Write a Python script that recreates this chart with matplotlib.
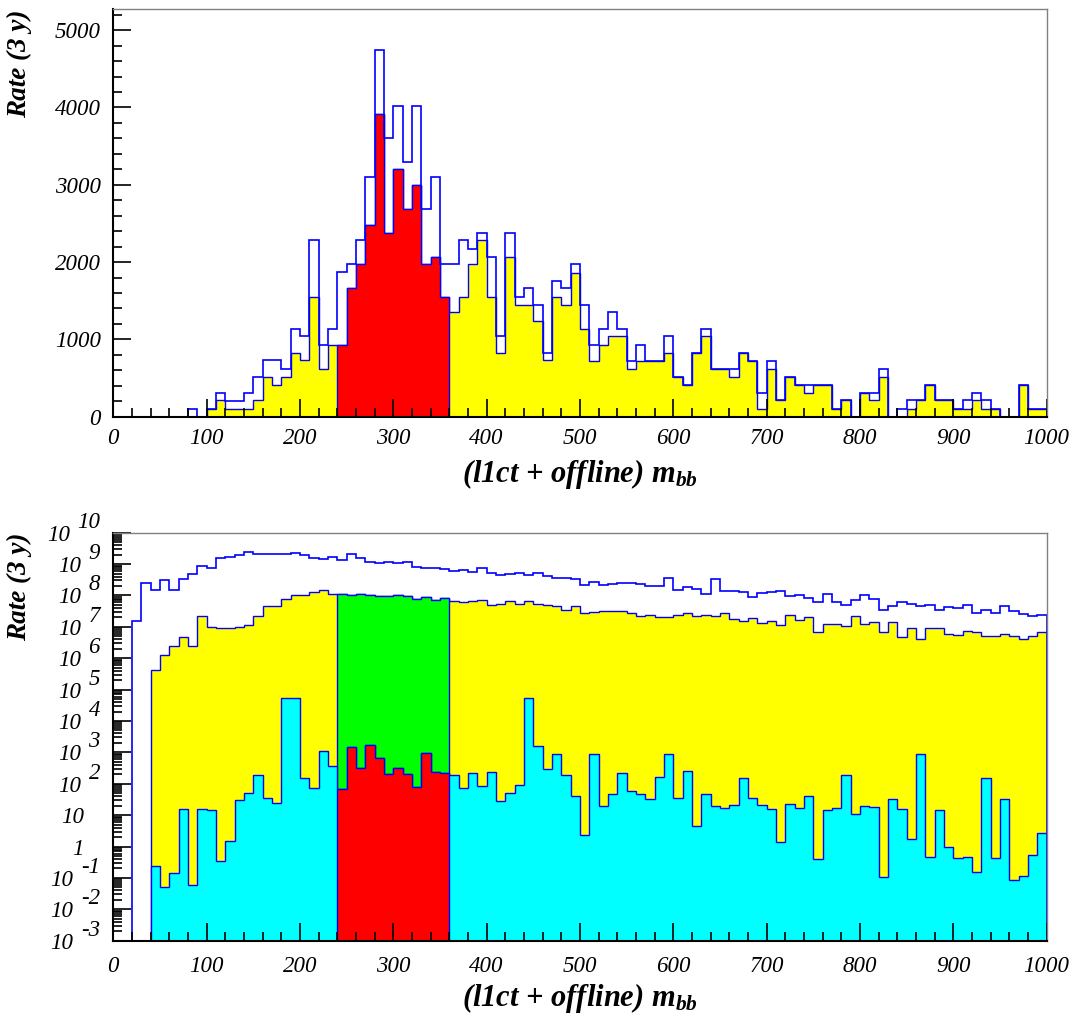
import numpy as np
import matplotlib
matplotlib.use("Agg")
import matplotlib.pyplot as plt
from matplotlib.ticker import MultipleLocator, LogLocator, NullFormatter
from matplotlib.transforms import blended_transform_factory, offset_copy

plt.rcParams['font.family'] = 'Liberation Serif'
plt.rcParams['mathtext.fontset'] = 'custom'
plt.rcParams['mathtext.rm'] = 'Liberation Serif'
plt.rcParams['mathtext.it'] = 'Liberation Serif:italic'
plt.rcParams['mathtext.bf'] = 'Liberation Serif:bold'
plt.rcParams['mathtext.bfit'] = 'Liberation Serif:bold:italic'

# 100 bins of 10 in m_bb, signal window 240-360
edges = np.arange(0, 1001, 10)
win_lo, win_hi = 24, 36

# top panel: all events (outline) and selected events (filled)
top_total = [0, 0, 0, 0, 0, 0, 0, 0, 100, 0,
             100, 310, 200, 200, 310, 520, 730, 730, 620, 1140,
             1040, 2280, 930, 1140, 1870, 1970, 2280, 3100, 4740, 3610,
             4020, 3300, 4020, 2690, 3100, 1970, 1970, 2280, 2170, 2380,
             2070, 1040, 2380, 1550, 1660, 1450, 830, 1760, 1660, 1970,
             1450, 930, 1140, 1350, 1140, 720, 930, 720, 720, 1040,
             520, 410, 830, 1140, 620, 620, 620, 830, 720, 310,
             720, 210, 520, 410, 410, 410, 410, 100, 210, 0,
             310, 310, 620, 0, 100, 210, 210, 410, 210, 210,
             100, 210, 310, 210, 100, 0, 0, 410, 100, 100]
top_sel = [0, 0, 0, 0, 0, 0, 0, 0, 0, 0,
           100, 210, 100, 100, 100, 210, 520, 410, 520, 830,
           730, 1550, 620, 930, 930, 1660, 1970, 2480, 3920, 2380,
           3200, 2690, 3000, 1970, 2070, 1550, 1350, 1550, 1970, 2280,
           1550, 830, 2070, 1450, 1450, 1240, 730, 1550, 1450, 1860,
           1140, 720, 930, 1040, 1040, 620, 720, 720, 720, 830,
           520, 410, 830, 1040, 620, 620, 520, 830, 720, 100,
           620, 210, 520, 410, 310, 410, 410, 100, 210, 0,
           310, 210, 520, 0, 0, 100, 210, 410, 210, 210,
           100, 100, 210, 100, 100, 0, 0, 410, 100, 100]

# bottom panel: log10 of rates, first filled bin given separately
bot_total_first = 2
bot_total_exp = [7.18, 8.41, 8.19, 8.49, 8.17, 8.54, 8.68, 8.95,
                 8.86, 9.20, 9.23, 9.29, 9.39, 9.31, 9.31, 9.32, 9.33, 9.34,
                 9.29, 9.20, 9.16, 9.22, 9.13, 9.31, 9.18, 9.07, 9.04, 9.06,
                 9.02, 9.06, 8.90, 8.88, 8.88, 8.84, 8.79, 8.80, 8.74, 8.88,
                 8.72, 8.65, 8.69, 8.72, 8.64, 8.72, 8.63, 8.55, 8.56, 8.54,
                 8.34, 8.44, 8.34, 8.38, 8.41, 8.40, 8.38, 8.31, 8.31, 8.55,
                 8.19, 8.28, 8.22, 8.06, 8.52, 8.15, 8.13, 8.11, 7.95, 8.07,
                 8.11, 8.13, 7.97, 8.01, 7.93, 7.78, 8.04, 7.80, 7.71, 7.85,
                 8.02, 7.88, 7.54, 7.67, 7.78, 7.73, 7.65, 7.70, 7.55, 7.62,
                 7.61, 7.71, 7.43, 7.54, 7.43, 7.67, 7.50, 7.40, 7.36, 7.38]
bot_mid_first = 4
bot_mid_exp = [5.62, 6.10, 6.40, 6.67, 6.40, 7.33,
               6.99, 6.97, 6.95, 6.98, 7.06, 7.35, 7.66, 7.68, 7.88, 8.00,
               8.00, 8.10, 8.17, 8.04, 8.04, 8.01, 8.04, 8.01, 7.99, 7.97,
               8.02, 7.99, 7.89, 7.95, 7.85, 7.91, 7.83, 7.80, 7.83, 7.85,
               7.69, 7.72, 7.83, 7.74, 7.81, 7.72, 7.70, 7.68, 7.55, 7.66,
               7.43, 7.47, 7.50, 7.52, 7.50, 7.43, 7.35, 7.38, 7.31, 7.31,
               7.38, 7.45, 7.35, 7.39, 7.34, 7.43, 7.24, 7.19, 7.27, 7.11,
               7.20, 7.07, 7.37, 7.23, 7.32, 6.83, 7.09, 7.09, 7.02, 7.35,
               7.09, 7.15, 6.85, 7.14, 6.69, 6.95, 6.60, 6.95, 6.95, 6.78,
               6.73, 6.88, 6.84, 6.70, 6.70, 6.77, 6.70, 6.60, 6.71, 6.83]
bot_low_first = 4
bot_low_exp = [-0.63, -1.30, -0.85, 1.19, -1.21, 1.19,
               1.17, -0.47, 0.18, 1.49, 1.70, 2.27, 1.55, 1.38, 4.74, 4.74,
               2.20, 1.88, 3.05, 2.56, 1.84, 3.17, 2.51, 3.23, 2.81, 2.30,
               2.50, 2.32, 1.89, 2.99, 2.37, 2.34, 2.29, 1.86, 2.35, 1.94,
               2.36, 1.46, 1.71, 1.95, 4.73, 3.19, 2.46, 2.96, 2.27, 1.60,
               0.38, 2.96, 1.30, 1.66, 2.34, 1.77, 1.66, 1.53, 2.21, 2.96,
               1.56, 2.40, 0.65, 1.66, 1.28, 1.24, 1.32, 2.18, 1.55, 1.33,
               1.20, 0.16, 1.36, 1.24, 1.62, -0.40, 1.18, 1.22, 2.27, 1.05,
               1.28, 1.26, -0.96, 1.52, 1.20, 0.24, 2.96, -0.32, 1.18, 0.00,
               -0.38, -0.32, -0.82, 2.19, -0.38, 1.52, -1.05, -0.94, -0.26, 0.44]

W, H = 1078, 1016
fig = plt.figure(figsize=(W / 100, H / 100), dpi=100)
ax_x0, ax_w = 113.3, 933.3
tick_fs = 16.5


def add_axes(top_px, bot_px):
    return fig.add_axes([ax_x0 / W, 1 - bot_px / H, ax_w / W, (bot_px - top_px) / H])


def style(ax):
    ax.set_xlim(0, 1000)
    ax.set_xticks(np.arange(0, 1001, 100), [str(v) for v in range(0, 1001, 100)],
                  fontsize=tick_fs, fontstyle='italic')
    ax.xaxis.set_minor_locator(MultipleLocator(20))
    ax.tick_params(which='both', direction='in', top=False, right=False, width=1.2)
    ax.tick_params(which='major', length=13)
    ax.tick_params(which='minor', length=6.5)
    for s in ['top', 'right']:
        ax.spines[s].set_color('#808080')
        ax.spines[s].set_linewidth(1.0)
    for s in ['left', 'bottom']:
        ax.spines[s].set_color('black')
        ax.spines[s].set_linewidth(1.5)
    ax.text(-0.101, 1.0, 'Rate (3 y)', transform=ax.transAxes, rotation=90,
            ha='center', va='top', fontsize=19.5, fontweight='bold', fontstyle='italic')
    ax.text(0.5, -0.099, r'(l1ct + offline) $\mathbfit{m}_{\mathbfit{bb}}$',
            transform=ax.transAxes, ha='center', va='top', fontsize=22,
            fontweight='bold', fontstyle='italic')


# ---- top panel ----
ax1 = add_axes(9.3, 416.7)
top_total = np.array(top_total, dtype=float)
top_sel = np.array(top_sel, dtype=float)
ax1.stairs(top_sel, edges, fill=True, facecolor='#ffff00', edgecolor='#0000ff', lw=1.0)
ax1.stairs(top_sel[win_lo:win_hi], edges[win_lo:win_hi + 1], fill=True,
           facecolor='#ff0000', edgecolor='#0000ff', lw=1.0)
ax1.stairs(top_total, edges, color='#0000ff', lw=1.2)
ax1.set_ylim(0, 5270)
ax1.set_yticks(np.arange(0, 5001, 1000), [str(v) for v in range(0, 5001, 1000)],
               fontsize=tick_fs, fontstyle='italic')
ax1.yaxis.set_minor_locator(MultipleLocator(200))
style(ax1)
ax1.tick_params(axis='x', pad=8)
ax1.tick_params(axis='y', pad=9)

# ---- bottom panel ----
ax2 = add_axes(532.7, 940.7)
ax2.set_yscale('log')
base = 1e-3
tot = 10.0 ** np.array(bot_total_exp)
mid = 10.0 ** np.array(bot_mid_exp)
low = 10.0 ** np.array(bot_low_exp)
e_tot = edges[bot_total_first:]
e_mid = edges[bot_mid_first:]
e_low = edges[bot_low_first:]
a, b = win_lo - bot_mid_first, win_hi - bot_mid_first

ax2.stairs(mid, e_mid, baseline=base, fill=True, facecolor='#ffff00', edgecolor='#0000ff', lw=1.0)
ax2.stairs(mid[a:b], e_mid[a:b + 1], baseline=base, fill=True, facecolor='#00ff00',
           edgecolor='#0000ff', lw=1.0)
a, b = win_lo - bot_low_first, win_hi - bot_low_first
ax2.stairs(low, e_low, baseline=base, fill=True, facecolor='#00ffff', edgecolor='#0000ff', lw=1.0)
ax2.stairs(low[a:b], e_low[a:b + 1], baseline=base, fill=True, facecolor='#ff0000',
           edgecolor='#0000ff', lw=1.0)
ax2.stairs(tot, e_tot, baseline=base, color='#0000ff', lw=1.2)

ax2.set_ylim(1e-3, 1e10)
decades = list(range(-3, 11))
ax2.set_yticks([10.0 ** n for n in decades], [''] * len(decades))
ax2.yaxis.set_minor_locator(LogLocator(base=10, subs=np.arange(2, 10), numticks=200))
ax2.yaxis.set_minor_formatter(NullFormatter())
style(ax2)
ax2.tick_params(axis='x', pad=11)

# ROOT style decade labels: "10" with the exponent raised beside it
tr = blended_transform_factory(ax2.transAxes, ax2.transData)
tr_up = offset_copy(tr, fig=fig, y=13, units='dots')
right_px = 100.0
for n in decades:
    if n == 0:
        base_txt, sup = '1', ''
    elif n == 1:
        base_txt, sup = '10', ''
    else:
        base_txt, sup = '10', str(n)
    if sup:
        w = sum(7.5 if c == '-' else 11 for c in sup)
        bx = right_px - w - 8
        ax2.text((right_px - ax_x0) / ax_w, 10.0 ** n, sup, transform=tr_up,
                 ha='right', va='center_baseline', fontsize=tick_fs, fontstyle='italic')
    else:
        bx = 84.0
    ax2.text((bx - ax_x0) / ax_w, 10.0 ** n, base_txt, transform=tr,
             ha='right', va='center_baseline', fontsize=tick_fs, fontstyle='italic')

fig.savefig('out.png', dpi=100)
